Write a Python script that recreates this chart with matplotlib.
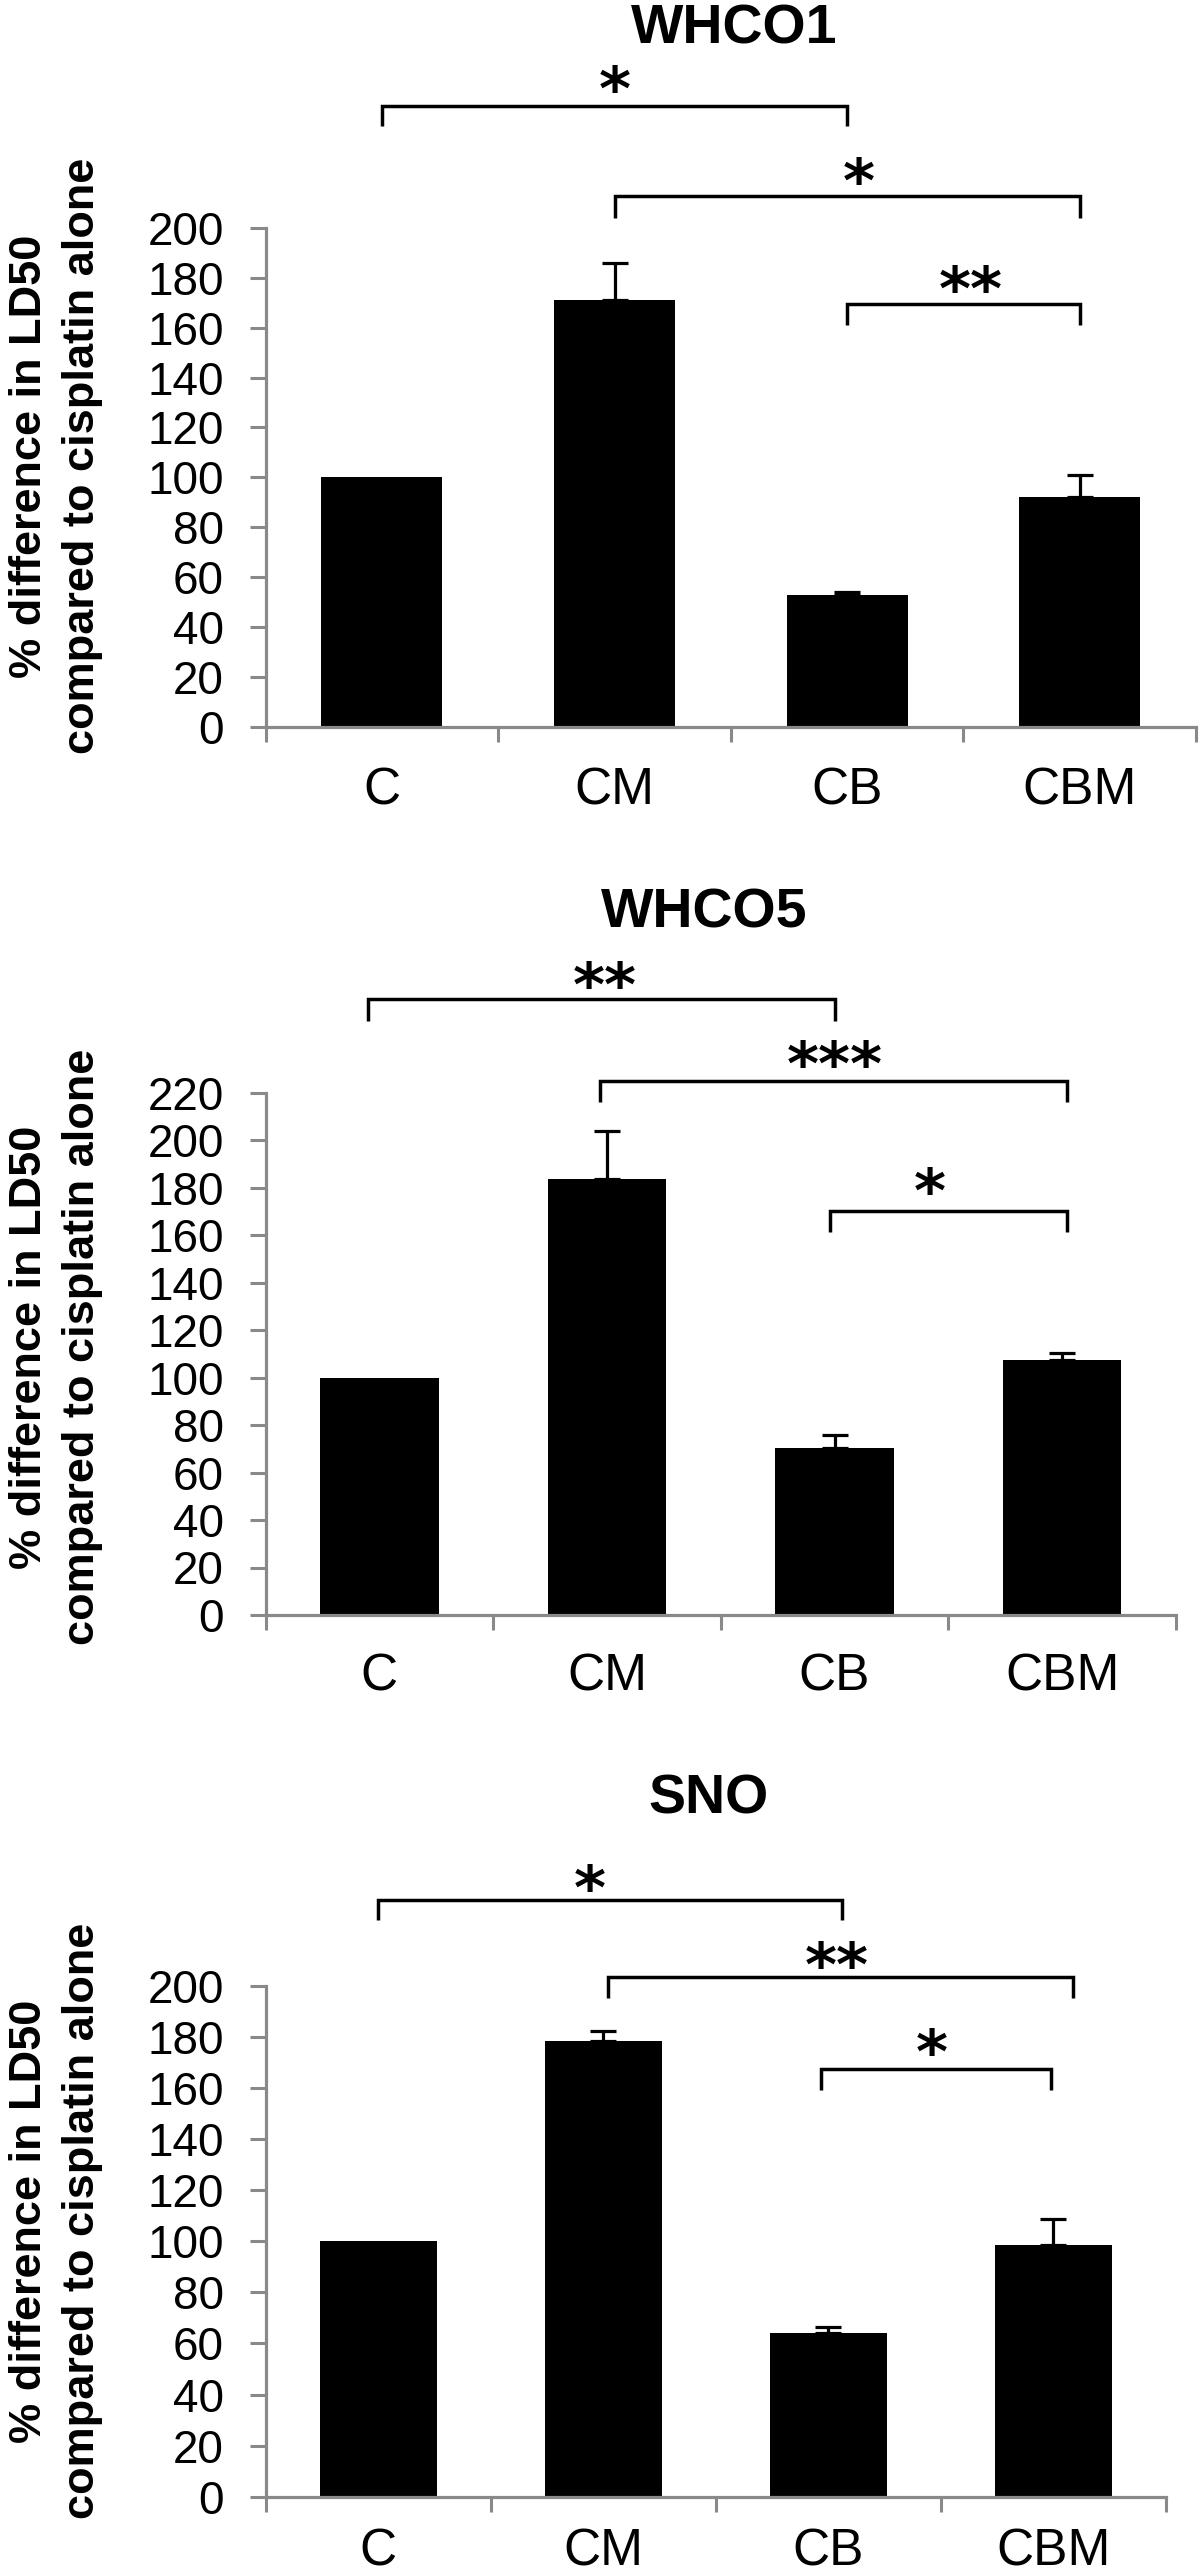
import matplotlib
matplotlib.use("Agg")
import matplotlib.pyplot as plt
import numpy as np

# ---------------- data ----------------
categories = ["C", "CM", "CB", "CBM"]
panel_titles = ["WHCO1", "WHCO5", "SNO"]

whco1_values = [100, 171, 53, 92.3]
whco1_errors = [0, 15, 1.2, 8.5]
whco5_values = [100, 183.5, 70.2, 107.4]
whco5_errors = [0, 20.5, 5.6, 2.8]
sno_values = [100, 178.5, 64, 98.5]
sno_errors = [0, 4, 2.6, 10.2]

y_max = [200, 220, 200]
y_step = 20
y_label = "% difference in LD50\ncompared to cisplatin alone"

# significance brackets: (x start, x end, bracket top, leg bottom)
whco1_brackets = [(0.0, 2.0, 249, 241), (1.0, 3.0, 213, 204), (2.0, 3.0, 169.5, 161)]
whco1_stars = [("*", 1.0, 261), ("*", 2.05, 224), ("**", 2.53, 181)]
whco5_brackets = [(-0.05, 2.0, 259.4, 250), (0.97, 3.02, 225, 216), (1.98, 3.02, 170, 161.3)]
whco5_stars = [("**", 0.99, 271), ("***", 2.0, 237.6), ("*", 2.42, 184.2)]
sno_brackets = [(0.0, 2.06, 233.8, 225.7), (1.02, 3.09, 203.5, 195.3), (1.97, 2.99, 167.6, 159.3)]
sno_stars = [("*", 0.94, 243.6), ("**", 2.04, 213.5), ("*", 2.46, 179.3)]

# ---------------- layout (pixels) ----------------
W, H = 1200, 2574
fig = plt.figure(figsize=(W / 100, H / 100), dpi=100)

panels = [
    dict(values=whco1_values, errors=whco1_errors, brackets=whco1_brackets, stars=whco1_stars,
         box=(265.6, 1196, 726.7, 228), title_xy=(734, 43), ylab_y=456, xpad=28.5),
    dict(values=whco5_values, errors=whco5_errors, brackets=whco5_brackets, stars=whco5_stars,
         box=(265.6, 1176, 1615, 1092.5), title_xy=(704, 928), ylab_y=1347, xpad=27),
    dict(values=sno_values, errors=sno_errors, brackets=sno_brackets, stars=sno_stars,
         box=(265.6, 1165.6, 2496.7, 1986), title_xy=(709, 1813), ylab_y=2221, xpad=22),
]

GRAY = "#898989"
FONT = ["Liberation Sans", "DejaVu Sans"]
STAR_FONT = ["DejaVu Sans"]
STAR_SIZE = 44

for i, p in enumerate(panels):
    l, r, y0, yt = p["box"]
    ax = fig.add_axes([l / W, 1 - y0 / H, (r - l) / W, (y0 - yt) / H])
    x = np.arange(len(categories))
    vals = np.array(p["values"], dtype=float)
    errs = np.array(p["errors"], dtype=float)
    ax.bar(x, vals, width=0.52, color="black", linewidth=0, zorder=2)
    m = errs > 0
    ax.errorbar(x[m], vals[m], yerr=[np.zeros(m.sum()), errs[m]], fmt="none",
                ecolor="black", elinewidth=2.3, capsize=9.4, capthick=2.3, zorder=3)

    ax.set_xlim(-0.5, len(categories) - 0.5)
    ax.set_ylim(0, y_max[i])
    ax.set_yticks(np.arange(0, y_max[i] + 1, y_step))
    ax.set_xticks(np.arange(-0.5, len(categories), 1.0))
    ax.set_xticklabels([])
    ax.set_xticks(x, minor=True)
    ax.set_xticklabels(categories, minor=True, fontsize=37, family=FONT)
    for lab in ax.get_yticklabels():
        lab.set_fontsize(33)
        lab.set_family(FONT)

    for s in ["top", "right"]:
        ax.spines[s].set_visible(False)
    for s in ["left", "bottom"]:
        ax.spines[s].set_color(GRAY)
        ax.spines[s].set_linewidth(2.3)
    ax.tick_params(axis="y", which="major", direction="out", length=11.5, width=2.2,
                   color=GRAY, pad=18.5)
    ax.tick_params(axis="x", which="major", direction="out", length=11, width=2.2,
                   color=GRAY)
    ax.tick_params(axis="x", which="minor", length=0, pad=p["xpad"])

    for (x1, x2, top, bot) in p["brackets"]:
        ax.plot([x1, x1, x2, x2], [bot, top, top, bot], color="black", lw=2.5,
                clip_on=False, solid_joinstyle="miter", solid_capstyle="butt", zorder=4)
    for (txt, sx, sy) in p["stars"]:
        ax.annotate(txt, xy=(sx, sy), xytext=(0, -0.56 * STAR_SIZE), textcoords="offset points",
                    ha="center", va="baseline", fontsize=STAR_SIZE, fontweight="bold",
                    family=STAR_FONT, annotation_clip=False)

    tx, ty = p["title_xy"]
    fig.text(tx / W, 1 - ty / H, panel_titles[i], ha="center", va="baseline",
             fontsize=40, fontweight="bold", family=FONT)
    fig.text(56 / W, 1 - p["ylab_y"] / H, y_label, rotation=90, ha="center", va="center",
             multialignment="center", fontsize=32.5, fontweight="bold", family=FONT,
             linespacing=1.35)

fig.savefig("out.png", dpi=100, facecolor="white")
